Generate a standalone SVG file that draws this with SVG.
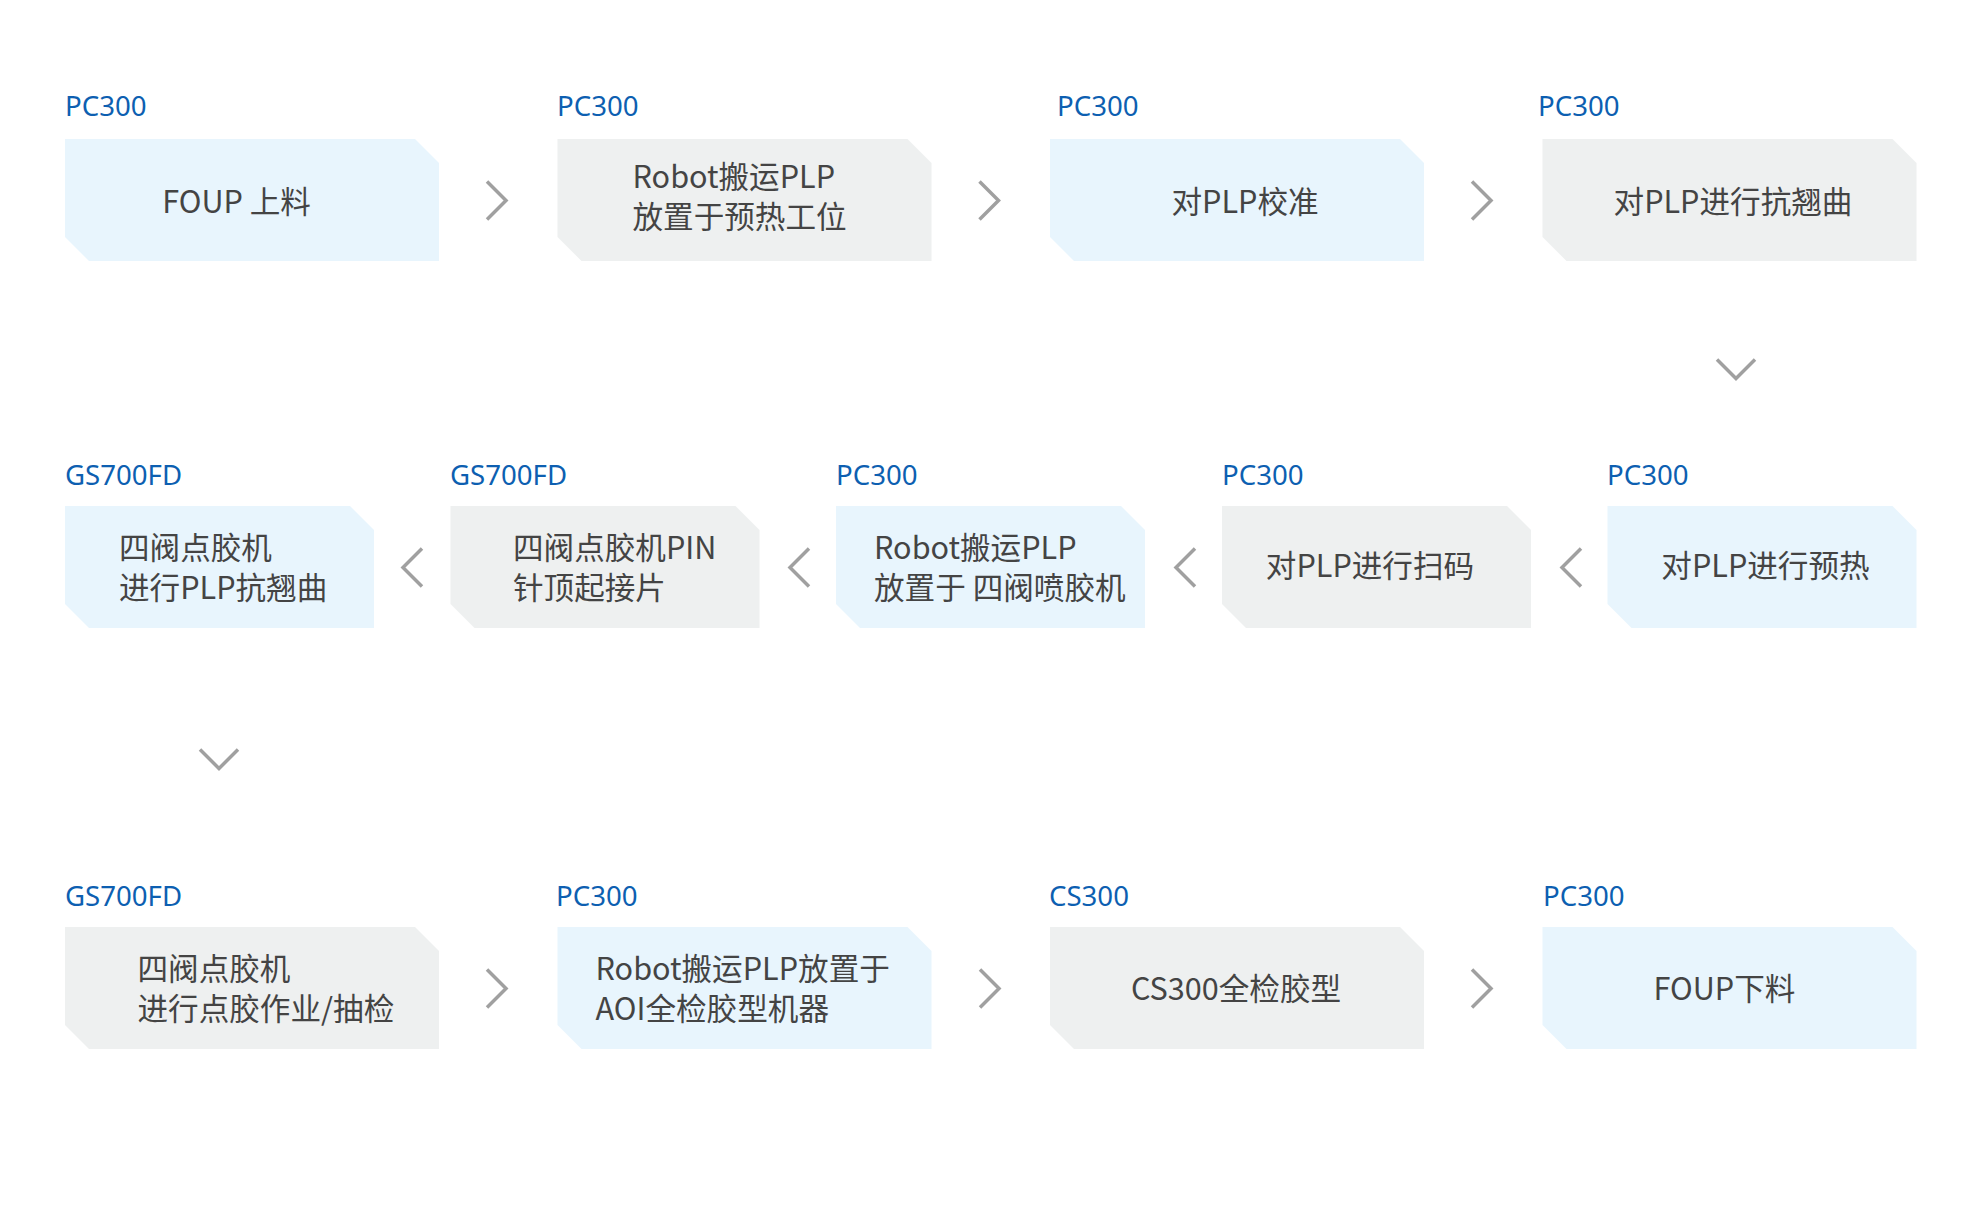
<svg xmlns="http://www.w3.org/2000/svg" width="1980" height="1207" viewBox="0 0 1980 1207">
<style>
.bg{fill:#ffffff}
.blue{fill:#e8f5fd}
.gray{fill:#eef0f0}
.lbl{font-family:"Noto Sans","Noto Sans CJK SC",sans-serif;font-size:27.6px;fill:#0d5fb1}
.txt{font-family:"Noto Sans CJK SC","Noto Sans",sans-serif;font-size:30.6px;fill:#444444}
.mid{text-anchor:middle}
.chev{fill:none;stroke:#a0a0a0;stroke-width:3.5;stroke-linejoin:miter}
</style>
<rect class="bg" x="0" y="0" width="1980" height="1207"/>

<!-- Row 1 -->
<g id="n1">
<text class="lbl" x="65" y="116">PC300</text>
<path class="blue" d="M65,139 H415 L439,163 V261 H89 L65,237 Z"/>
<text class="txt mid" x="236.5" y="213">FOUP 上料</text>
</g>
<g id="n2">
<text class="lbl" x="557" y="116">PC300</text>
<path class="gray" d="M557.5,139 H907.5 L931.5,163 V261 H581.5 L557.5,237 Z"/>
<text class="txt" x="632.5" y="188">Robot搬运PLP</text>
<text class="txt" x="632.5" y="228">放置于预热工位</text>
</g>
<g id="n3">
<text class="lbl" x="1057" y="116">PC300</text>
<path class="blue" d="M1050,139 H1400 L1424,163 V261 H1074 L1050,237 Z"/>
<text class="txt mid" x="1245" y="213">对PLP校准</text>
</g>
<g id="n4">
<text class="lbl" x="1538" y="116">PC300</text>
<path class="gray" d="M1542.5,139 H1892.5 L1916.5,163 V261 H1566.5 L1542.5,237 Z"/>
<text class="txt mid" x="1733" y="213">对PLP进行抗翘曲</text>
</g>

<!-- Row 2 -->
<g id="n5">
<text class="lbl" x="1607" y="485">PC300</text>
<path class="blue" d="M1607.5,506 H1892.5 L1916.5,530 V628 H1631.5 L1607.5,604 Z"/>
<text class="txt mid" x="1765.5" y="577">对PLP进行预热</text>
</g>
<g id="n6">
<text class="lbl" x="1222" y="485">PC300</text>
<path class="gray" d="M1222,506 H1507 L1531,530 V628 H1246 L1222,604 Z"/>
<text class="txt mid" x="1370" y="577">对PLP进行扫码</text>
</g>
<g id="n7">
<text class="lbl" x="836" y="485">PC300</text>
<path class="blue" d="M836,506 H1121 L1145,530 V628 H860 L836,604 Z"/>
<text class="txt" x="874" y="559">Robot搬运PLP</text>
<text class="txt" x="874" y="599">放置于 四阀喷胶机</text>
</g>
<g id="n8">
<text class="lbl" x="450" y="485">GS700FD</text>
<path class="gray" d="M450.5,506 H735.5 L759.5,530 V628 H474.5 L450.5,604 Z"/>
<text class="txt" x="513" y="559">四阀点胶机PIN</text>
<text class="txt" x="513" y="599">针顶起接片</text>
</g>
<g id="n9">
<text class="lbl" x="65" y="485">GS700FD</text>
<path class="blue" d="M65,506 H350 L374,530 V628 H89 L65,604 Z"/>
<text class="txt" x="119" y="559">四阀点胶机</text>
<text class="txt" x="119" y="599">进行PLP抗翘曲</text>
</g>

<!-- Row 3 -->
<g id="n10">
<text class="lbl" x="65" y="906">GS700FD</text>
<path class="gray" d="M65,927 H415 L439,951 V1049 H89 L65,1025 Z"/>
<text class="txt" x="137.5" y="980">四阀点胶机</text>
<text class="txt" x="137.5" y="1020">进行点胶作业/抽检</text>
</g>
<g id="n11">
<text class="lbl" x="556" y="906">PC300</text>
<path class="blue" d="M557.5,927 H907.5 L931.5,951 V1049 H581.5 L557.5,1025 Z"/>
<text class="txt" x="595.5" y="980">Robot搬运PLP放置于</text>
<text class="txt" x="595.5" y="1020">AOI全检胶型机器</text>
</g>
<g id="n12">
<text class="lbl" x="1049" y="906">CS300</text>
<path class="gray" d="M1050,927 H1400 L1424,951 V1049 H1074 L1050,1025 Z"/>
<text class="txt mid" x="1236" y="1000">CS300全检胶型</text>
</g>
<g id="n13">
<text class="lbl" x="1543" y="906">PC300</text>
<path class="blue" d="M1542.5,927 H1892.5 L1916.5,951 V1049 H1566.5 L1542.5,1025 Z"/>
<text class="txt mid" x="1724.5" y="1000">FOUP下料</text>
</g>

<!-- Connectors -->
<g id="connectors">
<polyline class="chev" points="487,181.5 506,200.5 487,219.5"/>
<polyline class="chev" points="979.5,181.5 998.5,200.5 979.5,219.5"/>
<polyline class="chev" points="1472,181.5 1491,200.5 1472,219.5"/>
<polyline class="chev" points="1717,359.5 1736,378.5 1755,359.5"/>
<polyline class="chev" points="1581,548.5 1562,567.5 1581,586.5"/>
<polyline class="chev" points="1195,548.5 1176,567.5 1195,586.5"/>
<polyline class="chev" points="809,548.5 790,567.5 809,586.5"/>
<polyline class="chev" points="422,548.5 403,567.5 422,586.5"/>
<polyline class="chev" points="200,749.5 219,768.5 238,749.5"/>
<polyline class="chev" points="487,969.5 506,988.5 487,1007.5"/>
<polyline class="chev" points="980,969.5 999,988.5 980,1007.5"/>
<polyline class="chev" points="1472,969.5 1491,988.5 1472,1007.5"/>
</g>
</svg>
